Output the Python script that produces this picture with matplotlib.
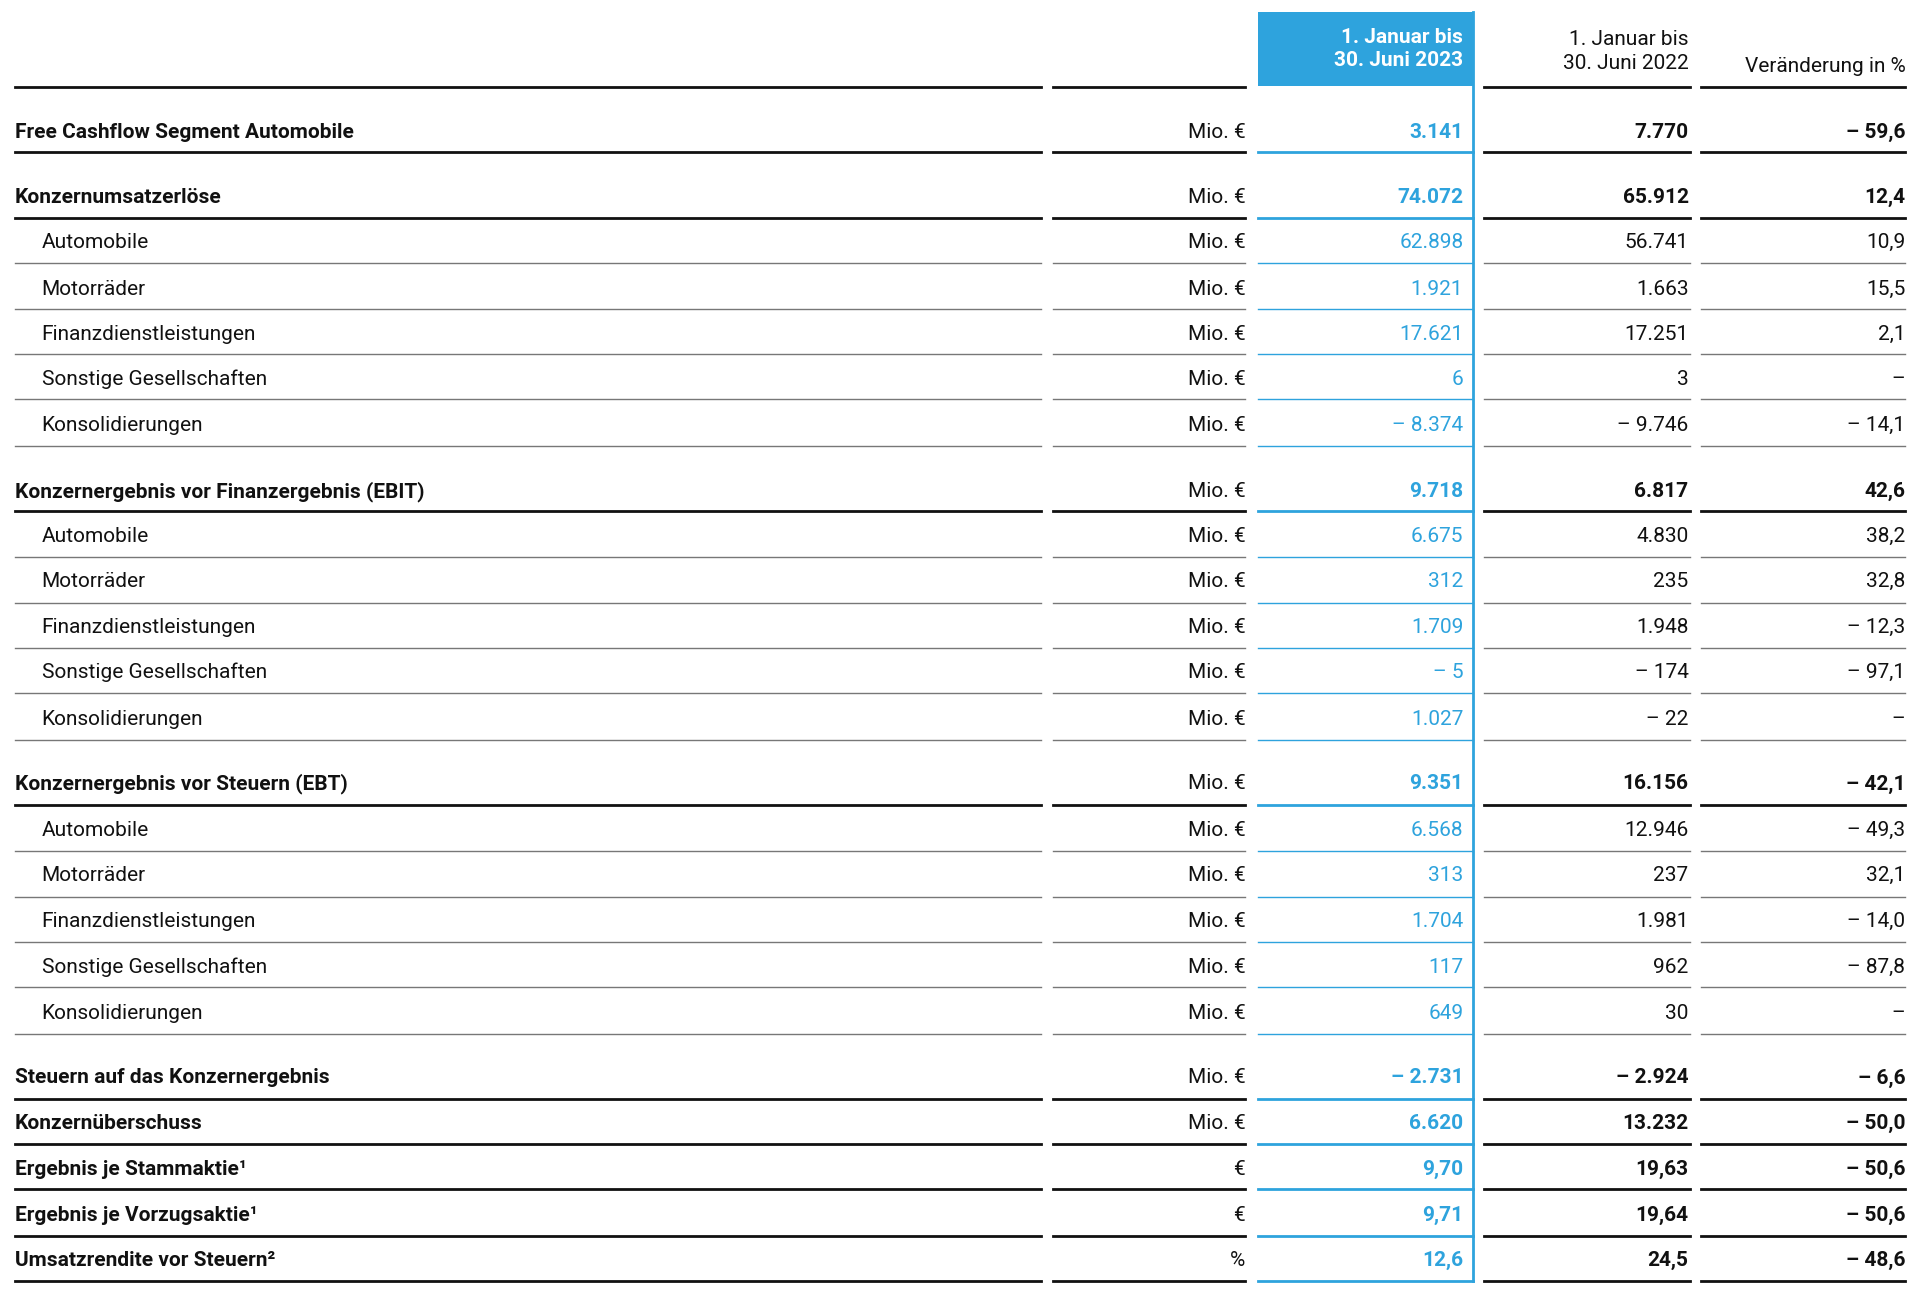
import matplotlib
matplotlib.use("Agg")
import matplotlib.pyplot as plt
from matplotlib.lines import Line2D
from matplotlib.patches import Rectangle

labels = ["Free Cashflow Segment Automobile",
          "Konzernumsatzerlöse","Automobile","Motorräder","Finanzdienstleistungen","Sonstige Gesellschaften","Konsolidierungen",
          "Konzernergebnis vor Finanzergebnis (EBIT)","Automobile","Motorräder","Finanzdienstleistungen","Sonstige Gesellschaften","Konsolidierungen",
          "Konzernergebnis vor Steuern (EBT)","Automobile","Motorräder","Finanzdienstleistungen","Sonstige Gesellschaften","Konsolidierungen",
          "Steuern auf das Konzernergebnis","Konzernüberschuss","Ergebnis je Stammaktie¹","Ergebnis je Vorzugsaktie¹","Umsatzrendite vor Steuern²"]
bold = [1,1,0,0,0,0,0,1,0,0,0,0,0,1,0,0,0,0,0,1,1,1,1,1]
units = ["Mio. €"]*21 + ["€","€","%"]
v2023 = ["3.141","74.072","62.898","1.921","17.621","6","– 8.374","9.718","6.675","312","1.709","– 5","1.027",
         "9.351","6.568","313","1.704","117","649","– 2.731","6.620","9,70","9,71","12,6"]
v2022 = ["7.770","65.912","56.741","1.663","17.251","3","– 9.746","6.817","4.830","235","1.948","– 174","– 22",
         "16.156","12.946","237","1.981","962","30","– 2.924","13.232","19,63","19,64","24,5"]
vchg = ["– 59,6","12,4","10,9","15,5","2,1","–","– 14,1","42,6","38,2","32,8","– 12,3","– 97,1","–",
        "– 42,1","– 49,3","32,1","– 14,0","– 87,8","–","– 6,6","– 50,0","– 50,6","– 50,6","– 48,6"]
header_2023 = "1. Januar bis\n30. Juni 2023"
header_2022 = "1. Januar bis\n30. Juni 2022"
header_chg = "Veränderung in %"

text_y = [108,161,198,236,273,310,347,401,438,475,512,549,587,640,678,715,752,790,827,880,917,955,992,1029]
line_y = [124,178,215,252,289,326,364,417,455,492,529,566,604,657,695,732,769,806,844,897,934,971,1009,1046]

W, H = 1568.0, 1058.0
BLUE = "#2EA3DD"
plt.rcParams['font.family'] = ['Roboto', 'DejaVu Sans']
fig = plt.figure(figsize=(19.2, 12.96), dpi=100)
ax = fig.add_axes([0, 0, 1, 1])
ax.set_xlim(0, W); ax.set_ylim(H, 0); ax.axis("off")

fs = 15
cols = [(12, 850), (860, 1017), (1027, 1203), (1212, 1380), (1389, 1556)]
# header
ax.add_patch(Rectangle((1027, 10), 176, 60, color=BLUE, lw=0))
ax.text(1195, 40, header_2023, ha="right", va="center", color="white", fontsize=fs, fontweight="bold", linespacing=1.3)
ax.text(1379, 42, header_2022, ha="right", va="center", color="#111", fontsize=fs, linespacing=1.3)
ax.text(1556, 54, header_chg, ha="right", va="center", color="#111", fontsize=fs)
for i, (a, b) in enumerate(cols):
    if i != 2:
        ax.add_line(Line2D([a, b], [71, 71], color="#111", lw=2))
ax.add_line(Line2D([1203, 1203], [10, 1046], color=BLUE, lw=2))

for i, lab in enumerate(labels):
    y = text_y[i]
    w = "bold" if bold[i] else "normal"
    x0 = 12 if bold[i] else 34
    ax.text(x0, y, lab, ha="left", va="center", fontsize=fs, fontweight=w, color="#111")
    ax.text(1017, y, units[i], ha="right", va="center", fontsize=fs, color="#111")
    ax.text(1195, y, v2023[i], ha="right", va="center", fontsize=fs, fontweight=w, color=BLUE)
    ax.text(1379, y, v2022[i], ha="right", va="center", fontsize=fs, fontweight=w, color="#111")
    ax.text(1556, y, vchg[i], ha="right", va="center", fontsize=fs, fontweight=w, color="#111")
    nxt_bold = bold[i+1] if i+1 < len(bold) else 1
    thick = bold[i] or nxt_bold and i in (0,)
    ly = line_y[i]
    lw = 2 if bold[i] else 1
    col = "#111" if bold[i] else "#777"
    for j, (a, b) in enumerate(cols):
        if j == 2:
            ax.add_line(Line2D([a, b], [ly, ly], color=BLUE, lw=lw))
        else:
            ax.add_line(Line2D([a, b], [ly, ly], color=col, lw=lw))

fig.savefig("out.png", dpi=100, facecolor="white")
